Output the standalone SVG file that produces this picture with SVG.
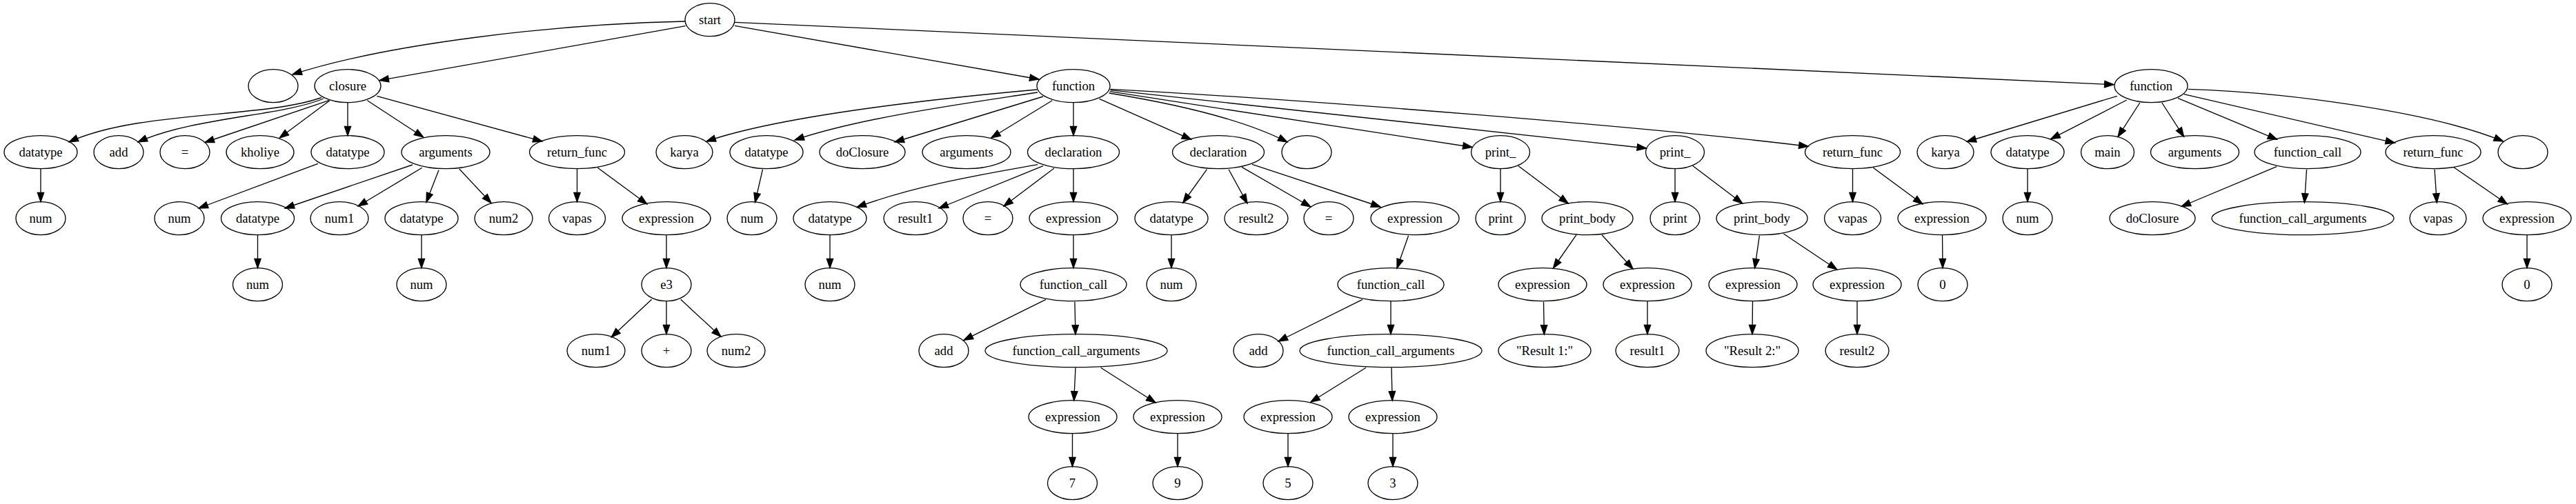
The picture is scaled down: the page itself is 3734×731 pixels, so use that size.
<svg xmlns="http://www.w3.org/2000/svg" width="3734" height="731" viewBox="0 0 3734 731">
<style>
.node ellipse{fill:none;stroke:#000;stroke-width:1.33}
.node text{font-family:"Liberation Serif","Times New Roman",serif;font-size:18.67px;text-anchor:middle;fill:#000}
#edges path{fill:none;stroke:#000;stroke-width:1.33;marker-end:url(#ah)}
</style>
<defs>
<marker id="ah" markerWidth="16" markerHeight="12" refX="13.33" refY="4.67" orient="auto" markerUnits="userSpaceOnUse" overflow="visible">
<path d="M0,0 L13.33,4.67 L0,9.33 Z" fill="#000" stroke="#000" stroke-width="1.33"/>
</marker>
</defs>
<rect width="3734" height="731" fill="#fff"/>
<g id="edges">
<path d="M993,31 C800,35 560,64 424,108"/>
<path d="M993.5,37.7 L550,116.7"/>
<path d="M1065,37.3 L1506,115"/>
<path d="M1065,32.3 L3064,122.7"/>
<path d="M466,141.5 C380,172 200,160 100,206"/>
<path d="M469,143 C410,168 280,170 200,206"/>
<path d="M476.8,145.7 L297,206.5"/>
<path d="M478,145.7 L405.2,200"/>
<path d="M504,148.7 L504,196.7"/>
<path d="M532.4,145.7 L613.8,199"/>
<path d="M546.3,139.3 L786,205"/>
<path d="M59,244.7 L59,292.7"/>
<path d="M460.9,237.3 L288,302"/>
<path d="M598,239 L413,302"/>
<path d="M611.8,243.3 L519,299"/>
<path d="M636,246.7 L618,293"/>
<path d="M665.7,245 L712,294.5"/>
<path d="M836.5,244.7 L836.5,292.7"/>
<path d="M866.3,243.3 L937.9,296"/>
<path d="M373.5,340.7 L373.5,388.7"/>
<path d="M611,340.7 L611,388.7"/>
<path d="M966,340.7 L966,388.7"/>
<path d="M944.6,434.3 L886.2,489"/>
<path d="M966,436.7 L966,484.7"/>
<path d="M986.7,434.3 L1045,488.3"/>
<path d="M1503,130 C1390,140 1140,165 1024,205"/>
<path d="M1504,134 C1400,150 1250,170 1152,203"/>
<path d="M1512,140 L1297,206"/>
<path d="M1525.3,145.7 L1436.7,200"/>
<path d="M1556,148.7 L1556,196.7"/>
<path d="M1593.6,143.3 L1726.7,202.3"/>
<path d="M1607.5,135 C1700,150 1800,172 1866,206"/>
<path d="M1608.7,132.7 L2134,213.5"/>
<path d="M1609.5,130.7 L2386.5,215"/>
<path d="M1609.5,129.3 C1900,145 2400,185 2621,212.3"/>
<path d="M1105.5,245.7 L1094.5,293.5"/>
<path d="M1504.2,238.7 C1430,252 1330,268 1242,300.5"/>
<path d="M1512,240.7 L1361,302"/>
<path d="M1528,244 L1455,299"/>
<path d="M1556,244.7 L1556,292.7"/>
<path d="M1203,340.7 L1203,388.7"/>
<path d="M1556,340.7 L1556,388.7"/>
<path d="M1516,434.3 L1397,493.3"/>
<path d="M1557.9,437.7 L1559,485"/>
<path d="M1559,533.3 L1556.7,581"/>
<path d="M1595.6,533.3 L1675,584"/>
<path d="M1554.5,628.7 L1554.5,676.7"/>
<path d="M1707,628.7 L1707,676.7"/>
<path d="M1749.4,245.7 L1714.8,294"/>
<path d="M1781,245.7 L1808,295"/>
<path d="M1800,242.3 L1899.8,300"/>
<path d="M1815,238.3 L2001,300"/>
<path d="M1698,340.7 L1698,388.7"/>
<path d="M2041.6,341.7 L2025,389"/>
<path d="M1975,434.3 L1853,495"/>
<path d="M2016,436.7 L2016,484.7"/>
<path d="M1980,533.3 L1899.8,583.3"/>
<path d="M2017,533.3 L2018.2,581"/>
<path d="M1867,628.7 L1867,676.7"/>
<path d="M2019,628.7 L2019,676.7"/>
<path d="M2175,244.7 L2175,292.7"/>
<path d="M2201,240.7 L2273.2,295"/>
<path d="M2285,340.7 L2251.4,389"/>
<path d="M2322,340.7 L2367,390"/>
<path d="M2237.5,437.7 L2238.3,485"/>
<path d="M2388,436.7 L2388,484.7"/>
<path d="M2428,244.7 L2428,292.7"/>
<path d="M2454,240.7 L2525.7,295"/>
<path d="M2550.4,341.7 L2543.6,389"/>
<path d="M2585.3,339 L2662.8,391"/>
<path d="M2540.5,436.7 L2540,484.7"/>
<path d="M2692,436.7 L2692,484.7"/>
<path d="M2685.5,244.7 L2685.5,292.7"/>
<path d="M2715.3,243.3 L2786.8,296"/>
<path d="M2815.5,340.7 L2816,388.7"/>
<path d="M3068.8,139.3 L2851,205.5"/>
<path d="M3082.8,145 L2972.7,201.7"/>
<path d="M3101.8,149 L3070,198.3"/>
<path d="M3133.8,149 L3165.6,198.3"/>
<path d="M3156.9,142.3 L3300.7,202.3"/>
<path d="M3165.6,136.7 L3471.5,207.3"/>
<path d="M3171.6,129.3 C3300,133 3520,160 3628.5,205"/>
<path d="M2939,244.7 L2939,292.7"/>
<path d="M3300,241.7 L3162,299.5"/>
<path d="M3343.6,245.7 L3340.4,294"/>
<path d="M3529,245.7 L3532.3,294"/>
<path d="M3557,242.7 L3634.4,296"/>
<path d="M3663,340.7 L3663,388.7"/>
</g>
<g id="n_start" class="node"><ellipse cx="1029" cy="28.7" rx="36" ry="24"/><text x="1029" y="34.7">start</text></g>
<g id="n_e1" class="node"><ellipse cx="396" cy="124.7" rx="36" ry="24"/></g>
<g id="n_closure" class="node"><ellipse cx="504" cy="124.7" rx="48" ry="24"/><text x="504" y="130.7">closure</text></g>
<g id="n_fn1" class="node"><ellipse cx="1556" cy="124.7" rx="53" ry="24"/><text x="1556" y="130.7">function</text></g>
<g id="n_fn2" class="node"><ellipse cx="3118" cy="124.7" rx="53" ry="24"/><text x="3118" y="130.7">function</text></g>
<g id="n_c_dt" class="node"><ellipse cx="59" cy="220.7" rx="53" ry="24"/><text x="59" y="226.7">datatype</text></g>
<g id="n_c_add" class="node"><ellipse cx="172" cy="220.7" rx="36" ry="24"/><text x="172" y="226.7">add</text></g>
<g id="n_c_eq" class="node"><ellipse cx="268" cy="220.7" rx="36" ry="24"/><text x="268" y="226.7">=</text></g>
<g id="n_c_kh" class="node"><ellipse cx="377" cy="220.7" rx="49" ry="24"/><text x="377" y="226.7">kholiye</text></g>
<g id="n_c_dt2" class="node"><ellipse cx="504" cy="220.7" rx="53" ry="24"/><text x="504" y="226.7">datatype</text></g>
<g id="n_c_args" class="node"><ellipse cx="646" cy="220.7" rx="64" ry="24"/><text x="646" y="226.7">arguments</text></g>
<g id="n_c_ret" class="node"><ellipse cx="836.5" cy="220.7" rx="69" ry="24"/><text x="836.5" y="226.7">return_func</text></g>
<g id="n_f1_karya" class="node"><ellipse cx="992" cy="220.7" rx="41" ry="24"/><text x="992" y="226.7">karya</text></g>
<g id="n_f1_dt" class="node"><ellipse cx="1111" cy="220.7" rx="53" ry="24"/><text x="1111" y="226.7">datatype</text></g>
<g id="n_f1_doc" class="node"><ellipse cx="1250" cy="220.7" rx="62" ry="24"/><text x="1250" y="226.7">doClosure</text></g>
<g id="n_f1_args" class="node"><ellipse cx="1401" cy="220.7" rx="64" ry="24"/><text x="1401" y="226.7">arguments</text></g>
<g id="n_f1_decl1" class="node"><ellipse cx="1556" cy="220.7" rx="66.5" ry="24"/><text x="1556" y="226.7">declaration</text></g>
<g id="n_f1_decl2" class="node"><ellipse cx="1766" cy="220.7" rx="66.5" ry="24"/><text x="1766" y="226.7">declaration</text></g>
<g id="n_f1_e" class="node"><ellipse cx="1894" cy="220.7" rx="36" ry="24"/></g>
<g id="n_f1_pr1" class="node"><ellipse cx="2175" cy="220.7" rx="42.5" ry="24"/><text x="2175" y="226.7">print_</text></g>
<g id="n_f1_pr2" class="node"><ellipse cx="2428" cy="220.7" rx="42.5" ry="24"/><text x="2428" y="226.7">print_</text></g>
<g id="n_f1_ret" class="node"><ellipse cx="2685.5" cy="220.7" rx="69" ry="24"/><text x="2685.5" y="226.7">return_func</text></g>
<g id="n_f2_karya" class="node"><ellipse cx="2820" cy="220.7" rx="41" ry="24"/><text x="2820" y="226.7">karya</text></g>
<g id="n_f2_dt" class="node"><ellipse cx="2939" cy="220.7" rx="53" ry="24"/><text x="2939" y="226.7">datatype</text></g>
<g id="n_f2_main" class="node"><ellipse cx="3055" cy="220.7" rx="38.5" ry="24"/><text x="3055" y="226.7">main</text></g>
<g id="n_f2_args" class="node"><ellipse cx="3181.5" cy="220.7" rx="64" ry="24"/><text x="3181.5" y="226.7">arguments</text></g>
<g id="n_f2_fc" class="node"><ellipse cx="3345" cy="220.7" rx="77" ry="24"/><text x="3345" y="226.7">function_call</text></g>
<g id="n_f2_ret" class="node"><ellipse cx="3527" cy="220.7" rx="69" ry="24"/><text x="3527" y="226.7">return_func</text></g>
<g id="n_f2_e" class="node"><ellipse cx="3657" cy="220.7" rx="36" ry="24"/></g>
<g id="n_num_a" class="node"><ellipse cx="59" cy="316.7" rx="36" ry="24"/><text x="59" y="322.7">num</text></g>
<g id="n_num_b" class="node"><ellipse cx="260" cy="316.7" rx="36" ry="24"/><text x="260" y="322.7">num</text></g>
<g id="n_args_dt1" class="node"><ellipse cx="373.5" cy="316.7" rx="53" ry="24"/><text x="373.5" y="322.7">datatype</text></g>
<g id="n_args_num1" class="node"><ellipse cx="492" cy="316.7" rx="42" ry="24"/><text x="492" y="322.7">num1</text></g>
<g id="n_args_dt2" class="node"><ellipse cx="611" cy="316.7" rx="53" ry="24"/><text x="611" y="322.7">datatype</text></g>
<g id="n_args_num2" class="node"><ellipse cx="730" cy="316.7" rx="42" ry="24"/><text x="730" y="322.7">num2</text></g>
<g id="n_cret_vapas" class="node"><ellipse cx="836.5" cy="316.7" rx="41" ry="24"/><text x="836.5" y="322.7">vapas</text></g>
<g id="n_cret_expr" class="node"><ellipse cx="966" cy="316.7" rx="64" ry="24"/><text x="966" y="322.7">expression</text></g>
<g id="n_f1dt_num" class="node"><ellipse cx="1090" cy="316.7" rx="36" ry="24"/><text x="1090" y="322.7">num</text></g>
<g id="n_d1_dt" class="node"><ellipse cx="1203" cy="316.7" rx="53" ry="24"/><text x="1203" y="322.7">datatype</text></g>
<g id="n_d1_res" class="node"><ellipse cx="1327" cy="316.7" rx="46" ry="24"/><text x="1327" y="322.7">result1</text></g>
<g id="n_d1_eq" class="node"><ellipse cx="1432" cy="316.7" rx="36" ry="24"/><text x="1432" y="322.7">=</text></g>
<g id="n_d1_expr" class="node"><ellipse cx="1556" cy="316.7" rx="64" ry="24"/><text x="1556" y="322.7">expression</text></g>
<g id="n_d2_dt" class="node"><ellipse cx="1698" cy="316.7" rx="53" ry="24"/><text x="1698" y="322.7">datatype</text></g>
<g id="n_d2_res" class="node"><ellipse cx="1821" cy="316.7" rx="46" ry="24"/><text x="1821" y="322.7">result2</text></g>
<g id="n_d2_eq" class="node"><ellipse cx="1926" cy="316.7" rx="36" ry="24"/><text x="1926" y="322.7">=</text></g>
<g id="n_d2_expr" class="node"><ellipse cx="2051" cy="316.7" rx="64" ry="24"/><text x="2051" y="322.7">expression</text></g>
<g id="n_p1_print" class="node"><ellipse cx="2175" cy="316.7" rx="36" ry="24"/><text x="2175" y="322.7">print</text></g>
<g id="n_p1_body" class="node"><ellipse cx="2301" cy="316.7" rx="66" ry="24"/><text x="2301" y="322.7">print_body</text></g>
<g id="n_p2_print" class="node"><ellipse cx="2428" cy="316.7" rx="36" ry="24"/><text x="2428" y="322.7">print</text></g>
<g id="n_p2_body" class="node"><ellipse cx="2554" cy="316.7" rx="66" ry="24"/><text x="2554" y="322.7">print_body</text></g>
<g id="n_r1_vapas" class="node"><ellipse cx="2685.5" cy="316.7" rx="41" ry="24"/><text x="2685.5" y="322.7">vapas</text></g>
<g id="n_r1_expr" class="node"><ellipse cx="2815" cy="316.7" rx="64" ry="24"/><text x="2815" y="322.7">expression</text></g>
<g id="n_f2dt_num" class="node"><ellipse cx="2939" cy="316.7" rx="36" ry="24"/><text x="2939" y="322.7">num</text></g>
<g id="n_fc_doc" class="node"><ellipse cx="3120" cy="316.7" rx="62" ry="24"/><text x="3120" y="322.7">doClosure</text></g>
<g id="n_fc_fca" class="node"><ellipse cx="3338" cy="316.7" rx="132" ry="24"/><text x="3338" y="322.7">function_call_arguments</text></g>
<g id="n_r2_vapas" class="node"><ellipse cx="3534" cy="316.7" rx="41" ry="24"/><text x="3534" y="322.7">vapas</text></g>
<g id="n_r2_expr" class="node"><ellipse cx="3663" cy="316.7" rx="64" ry="24"/><text x="3663" y="322.7">expression</text></g>
<g id="n_dt1_num" class="node"><ellipse cx="373.5" cy="412.7" rx="36" ry="24"/><text x="373.5" y="418.7">num</text></g>
<g id="n_dt2_num" class="node"><ellipse cx="611" cy="412.7" rx="36" ry="24"/><text x="611" y="418.7">num</text></g>
<g id="n_e3" class="node"><ellipse cx="966" cy="412.7" rx="36" ry="24"/><text x="966" y="418.7">e3</text></g>
<g id="n_d1dt_num" class="node"><ellipse cx="1203" cy="412.7" rx="36" ry="24"/><text x="1203" y="418.7">num</text></g>
<g id="n_d1_fc" class="node"><ellipse cx="1556" cy="412.7" rx="77" ry="24"/><text x="1556" y="418.7">function_call</text></g>
<g id="n_d2dt_num" class="node"><ellipse cx="1698" cy="412.7" rx="36" ry="24"/><text x="1698" y="418.7">num</text></g>
<g id="n_d2_fc" class="node"><ellipse cx="2016" cy="412.7" rx="77" ry="24"/><text x="2016" y="418.7">function_call</text></g>
<g id="n_pb1_ex1" class="node"><ellipse cx="2236" cy="412.7" rx="64" ry="24"/><text x="2236" y="418.7">expression</text></g>
<g id="n_pb1_ex2" class="node"><ellipse cx="2388" cy="412.7" rx="64" ry="24"/><text x="2388" y="418.7">expression</text></g>
<g id="n_pb2_ex1" class="node"><ellipse cx="2541" cy="412.7" rx="64" ry="24"/><text x="2541" y="418.7">expression</text></g>
<g id="n_pb2_ex2" class="node"><ellipse cx="2692" cy="412.7" rx="64" ry="24"/><text x="2692" y="418.7">expression</text></g>
<g id="n_r1_zero" class="node"><ellipse cx="2816" cy="412.7" rx="36" ry="24"/><text x="2816" y="418.7">0</text></g>
<g id="n_r2_zero" class="node"><ellipse cx="3663" cy="412.7" rx="36" ry="24"/><text x="3663" y="418.7">0</text></g>
<g id="n_e3_num1" class="node"><ellipse cx="864" cy="508.7" rx="42" ry="24"/><text x="864" y="514.7">num1</text></g>
<g id="n_e3_plus" class="node"><ellipse cx="966" cy="508.7" rx="36" ry="24"/><text x="966" y="514.7">+</text></g>
<g id="n_e3_num2" class="node"><ellipse cx="1067" cy="508.7" rx="42" ry="24"/><text x="1067" y="514.7">num2</text></g>
<g id="n_fc1_add" class="node"><ellipse cx="1368" cy="508.7" rx="36" ry="24"/><text x="1368" y="514.7">add</text></g>
<g id="n_fc1_fca" class="node"><ellipse cx="1560" cy="508.7" rx="132" ry="24"/><text x="1560" y="514.7">function_call_arguments</text></g>
<g id="n_fc2_add" class="node"><ellipse cx="1824" cy="508.7" rx="36" ry="24"/><text x="1824" y="514.7">add</text></g>
<g id="n_fc2_fca" class="node"><ellipse cx="2016" cy="508.7" rx="132" ry="24"/><text x="2016" y="514.7">function_call_arguments</text></g>
<g id="n_str1" class="node"><ellipse cx="2239" cy="508.7" rx="67" ry="24"/><text x="2239" y="514.7">"Result 1:"</text></g>
<g id="n_res1" class="node"><ellipse cx="2388" cy="508.7" rx="46" ry="24"/><text x="2388" y="514.7">result1</text></g>
<g id="n_str2" class="node"><ellipse cx="2540" cy="508.7" rx="67" ry="24"/><text x="2540" y="514.7">"Result 2:"</text></g>
<g id="n_res2" class="node"><ellipse cx="2692" cy="508.7" rx="46" ry="24"/><text x="2692" y="514.7">result2</text></g>
<g id="n_a1_ex1" class="node"><ellipse cx="1555" cy="604.7" rx="64" ry="24"/><text x="1555" y="610.7">expression</text></g>
<g id="n_a1_ex2" class="node"><ellipse cx="1707" cy="604.7" rx="64" ry="24"/><text x="1707" y="610.7">expression</text></g>
<g id="n_a2_ex1" class="node"><ellipse cx="1867" cy="604.7" rx="64" ry="24"/><text x="1867" y="610.7">expression</text></g>
<g id="n_a2_ex2" class="node"><ellipse cx="2019" cy="604.7" rx="64" ry="24"/><text x="2019" y="610.7">expression</text></g>
<g id="n_7" class="node"><ellipse cx="1554.5" cy="700.7" rx="36" ry="24"/><text x="1554.5" y="706.7">7</text></g>
<g id="n_9" class="node"><ellipse cx="1707" cy="700.7" rx="36" ry="24"/><text x="1707" y="706.7">9</text></g>
<g id="n_5" class="node"><ellipse cx="1867" cy="700.7" rx="36" ry="24"/><text x="1867" y="706.7">5</text></g>
<g id="n_3" class="node"><ellipse cx="2019" cy="700.7" rx="36" ry="24"/><text x="2019" y="706.7">3</text></g>
</svg>
